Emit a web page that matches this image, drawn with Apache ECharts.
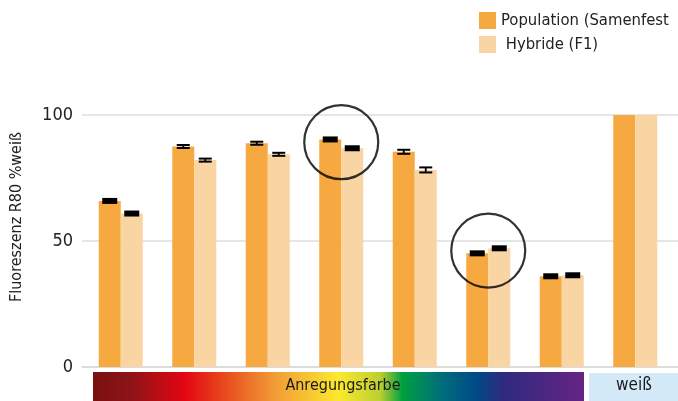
<!DOCTYPE html>
<html>
<head>
<meta charset="utf-8">
<script src="https://cdn.jsdelivr.net/npm/echarts@6/dist/echarts.min.js"></script>
<style>
  html, body { margin: 0; padding: 0; background: #fff; }
  #chart { width: 678px; height: 401px; }
</style>
</head>
<body>
<div id="chart"></div>
<script>
// Fluorescence (R80, % of white) per excitation colour group
const categories = ['G1', 'G2', 'G3', 'G4', 'G5', 'G6', 'G7', 'weiß'];
const seriesNames = ['Population (Samenfest', ' Hybride (F1)'];
const populationValues = [65.9, 87.5, 88.8, 90.3, 85.4, 45.1, 36.0, 100];
const hybridValues     = [60.9, 82.1, 84.4, 86.8, 78.2, 47.1, 36.4, 100];
// half-range of the error bars (0 = none drawn)
const populationErrors = [0.25, 0.6, 0.6, 0.25, 0.8, 0.25, 0.25, 0];
const hybridErrors     = [0.25, 0.6, 0.6, 0.25, 1.0, 0.25, 0.25, 0];
// highlighted groups: [category index, value at circle centre]
const highlights = [[3, 89.2], [5, 46.2]];
const yTicks = [0, 50, 100];

const FONT = '"Liberation Sans Narrow", "DejaVu Sans Condensed", sans-serif';
const ORANGE = '#F7A941';
const LIGHT = '#FAD5A4';
const BAR_W = 22;

const chart = echarts.init(document.getElementById('chart'), null, { renderer: 'canvas' });

function errorBarRenderer(values, errors, side) {
  return function (params, api) {
    const i = api.value(0);
    const err = errors[i];
    if (!err) return null;
    const v = values[i];
    const c = api.coord([i, v]);
    const x = c[0] + side * BAR_W / 2;
    const hi = api.coord([i, v + err])[1];
    const lo = api.coord([i, v - err])[1];
    const style = { fill: '#000' };
    if (lo - hi < 2.5) {
      // caps merge into one solid block
      return { type: 'rect', shape: { x: x - 7.5, y: c[1] - 3, width: 15, height: 6 }, style: style };
    }
    const w = 13, t = 2;
    return {
      type: 'group',
      children: [
        { type: 'rect', shape: { x: x - w / 2, y: hi - t / 2, width: w, height: t }, style: style },
        { type: 'rect', shape: { x: x - w / 2, y: lo - t / 2, width: w, height: t }, style: style },
        { type: 'rect', shape: { x: x - 0.9, y: hi, width: 1.8, height: lo - hi }, style: style }
      ]
    };
  };
}

const idx = categories.map((_, i) => i);

chart.setOption({
  animation: false,
  textStyle: { fontFamily: FONT },
  legend: {
    orient: 'vertical',
    left: 479,
    top: 12,
    padding: 0,
    itemWidth: 17,
    itemHeight: 17,
    itemGap: 7,
    icon: 'rect',
    textStyle: { fontSize: 16.5, color: '#222', fontFamily: FONT },
    data: seriesNames
  },
  grid: [
    { left: 84, right: 6, top: 115, bottom: 34, outerBoundsMode: 'none', containLabel: false },
    { left: 82, right: 0, top: 115, bottom: 34, outerBoundsMode: 'none', containLabel: false }
  ],
  xAxis: [
    { type: 'category', gridIndex: 0, data: categories, axisLine: { show: false }, axisTick: { show: false }, axisLabel: { show: false } },
    { type: 'value', gridIndex: 1, min: 0, max: 1, show: true, axisLine: { show: true, lineStyle: { color: '#d9d9d9', width: 1.5 } }, axisTick: { show: false }, axisLabel: { show: false }, splitLine: { show: false } }
  ],
  yAxis: [
    {
      type: 'value', gridIndex: 0, min: 0, max: 100, interval: 50,
      axisLine: { show: false }, axisTick: { show: false },
      splitLine: { show: false },
      axisLabel: { fontSize: 18, color: '#222', margin: 11, fontFamily: FONT,
        formatter: v => yTicks.includes(v) ? String(v) : '' }
    },
    {
      type: 'value', gridIndex: 1, min: 0, max: 100, interval: 50,
      axisLine: { show: false }, axisTick: { show: false }, axisLabel: { show: false },
      splitLine: { show: true, lineStyle: { color: '#dedede', width: 1.5 } }
    }
  ],
  series: [
    { name: seriesNames[0], type: 'bar', xAxisIndex: 0, yAxisIndex: 0, data: populationValues,
      barWidth: BAR_W, barGap: '0%', itemStyle: { color: ORANGE }, z: 2 },
    { name: seriesNames[1], type: 'bar', xAxisIndex: 0, yAxisIndex: 0, data: hybridValues,
      barWidth: BAR_W, barGap: '0%', itemStyle: { color: LIGHT }, z: 2 },
    { type: 'custom', xAxisIndex: 0, yAxisIndex: 0, data: idx.map(i => [i, populationValues[i]]),
      renderItem: errorBarRenderer(populationValues, populationErrors, -1), z: 5 },
    { type: 'custom', xAxisIndex: 0, yAxisIndex: 0, data: idx.map(i => [i, hybridValues[i]]),
      renderItem: errorBarRenderer(hybridValues, hybridErrors, 1), z: 5 },
    { type: 'scatter', xAxisIndex: 0, yAxisIndex: 0, data: highlights, symbol: 'circle', symbolSize: 74,
      itemStyle: { color: 'rgba(0,0,0,0)', borderColor: '#000', borderWidth: 2.2 }, z: 6, silent: true }
  ],
  graphic: [
    {
      type: 'text', z: 11, x: 17, y: 217, rotation: Math.PI / 2,
      style: { text: 'Fluoreszenz R80 %weiß', fontSize: 16, fill: '#222', fontFamily: FONT, align: 'center', verticalAlign: 'middle' }
    },
    {
      type: 'rect', left: 93, top: 372, z: 10,
      shape: { width: 491, height: 29 },
      style: {
        fill: new echarts.graphic.LinearGradient(0, 0, 1, 0, [
          { offset: 0, color: '#7a1010' },
          { offset: 0.077, color: '#8d1417' },
          { offset: 0.187, color: '#e30613' },
          { offset: 0.275, color: '#e8501e' },
          { offset: 0.37, color: '#f29c38' },
          { offset: 0.5, color: '#fde82d' },
          { offset: 0.585, color: '#bccf31' },
          { offset: 0.63, color: '#00a040' },
          { offset: 0.707, color: '#006f7a' },
          { offset: 0.78, color: '#004a88' },
          { offset: 0.835, color: '#2e2a7e' },
          { offset: 1, color: '#662483' }
        ])
      }
    },
    {
      type: 'text', z: 11, x: 343, y: 386,
      style: { text: 'Anregungsfarbe', fontSize: 16, fill: '#1a1a1a', fontFamily: FONT, align: 'center', verticalAlign: 'middle' }
    },
    {
      type: 'rect', left: 589, top: 373, z: 10,
      shape: { width: 89, height: 28 },
      style: { fill: '#d4eaf9' }
    },
    {
      type: 'text', z: 11, x: 634, y: 386,
      style: { text: 'weiß', fontSize: 17, fill: '#1a1a1a', fontFamily: FONT, align: 'center', verticalAlign: 'middle' }
    }
  ]
});
</script>
</body>
</html>
